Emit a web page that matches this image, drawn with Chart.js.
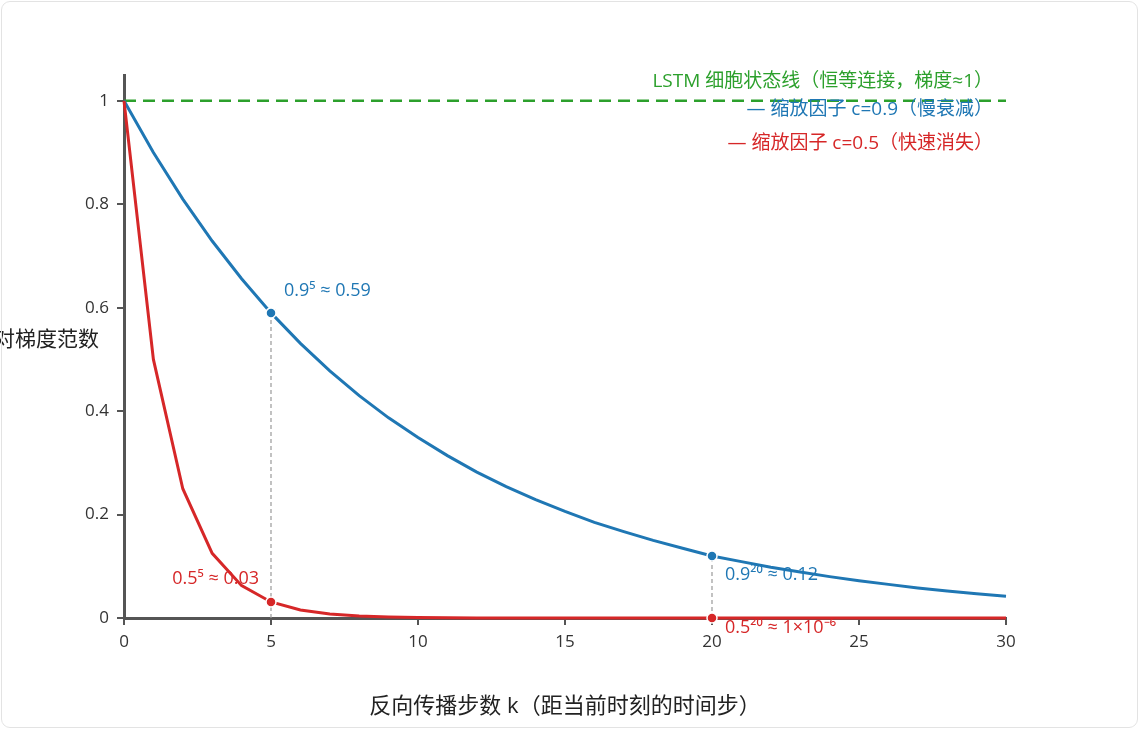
<!DOCTYPE html>
<html>
<head>
<meta charset="utf-8">
<script src="https://cdn.jsdelivr.net/npm/chart.js@4.4.1/dist/chart.umd.min.js"></script>
<style>
  html, body { margin: 0; padding: 0; background: #fff; }
  #wrap { position: relative; width: 1140px; height: 730px; }
  #chart { position: absolute; left: 0; top: 0; }
  #frame { position: absolute; left: 1px; top: 1px; width: 1137px; height: 727px;
           border: 1px solid #e3e3e3; border-radius: 9px; box-sizing: border-box; pointer-events: none; }
</style>
</head>
<body>
<div id="wrap">
  <canvas id="chart" width="1140" height="730"></canvas>
  <div id="frame"></div>
</div>
<script>
// backprop steps k
const steps = [0,1,2,3,4,5,6,7,8,9,10,11,12,13,14,15,16,17,18,19,20,21,22,23,24,25,26,27,28,29,30];
// gradient norm with c = 0.9
const slowDecay = [1, 0.9, 0.81, 0.729, 0.656, 0.59, 0.531, 0.478, 0.43, 0.387, 0.349, 0.314, 0.282, 0.254, 0.229,
  0.206, 0.185, 0.167, 0.15, 0.135, 0.12, 0.109, 0.098, 0.089, 0.08, 0.072, 0.065, 0.058, 0.052, 0.047, 0.042];
// gradient norm with c = 0.5
const fastDecay = [1, 0.5, 0.25, 0.125, 0.0625, 0.031, 0.0156, 0.0078, 0.0039, 0.002, 0.001, 0.0005, 0.0002, 0.0001, 0.0001,
  0, 0, 0, 0, 0, 0, 0, 0, 0, 0, 0, 0, 0, 0, 0, 0];
// LSTM cell state (identity)
const lstmLine = [1, 1];
const lstmSteps = [0, 30];

// highlighted points
const markSteps = [5, 20];
const markSlow = [0.59, 0.12];
const markFast = [0.031, 0.000001];
const markSlowText = ['0.9⁵ ≈ 0.59', '0.9²⁰ ≈ 0.12'];
const markFastText = ['0.5⁵ ≈ 0.03', '0.5²⁰ ≈ 1×10⁻⁶'];

const xTicks = [0, 5, 10, 15, 20, 25, 30];
const yTicks = [0, 0.2, 0.4, 0.6, 0.8, 1];

const legendLines = [
  { text: 'LSTM 细胞状态线（恒等连接，梯度≈1）', color: '#2ca02c' },
  { text: '— 缩放因子 c=0.9（慢衰减）', color: '#1f77b4' },
  { text: '— 缩放因子 c=0.5（快速消失）', color: '#d62728' }
];
const xTitle = '反向传播步数 k（距当前时刻的时间步）';
const yTitle = '相对梯度范数';

const BLUE = '#1f77b4', RED = '#d62728', GREEN = '#2ca02c', AXIS = '#555555';
const FONT = "'Open Sans', 'Noto Sans CJK SC', sans-serif";

const pts = (xs, ys) => xs.map((x, i) => ({ x: x, y: ys[i] }));

// vertical guide lines from each marker down to 0
const guides = markSteps.map((s, i) => ({
  data: [{ x: s, y: 0 }, { x: s, y: markSlow[i] }],
  borderColor: '#999999',
  borderWidth: 1.2,
  borderDash: [4, 3],
  pointRadius: 0,
  order: 5
}));

const textPlugin = {
  id: 'texts',
  afterDraw(chart) {
    const ctx = chart.ctx;
    const xs = chart.scales.x, ys = chart.scales.y;
    ctx.save();
    ctx.textBaseline = 'middle';

    // legend lines top right
    ctx.font = '19px ' + FONT;
    ctx.textAlign = 'right';
    const ly = [82, 110, 144];
    legendLines.forEach((l, i) => {
      ctx.fillStyle = l.color;
      ctx.fillText(l.text, 993, ly[i]);
    });

    // marker labels
    ctx.font = '18px ' + FONT;
    markSteps.forEach((s, i) => {
      const px = xs.getPixelForValue(s);
      ctx.fillStyle = BLUE;
      ctx.textAlign = 'left';
      const sy = ys.getPixelForValue(markSlow[i]);
      ctx.fillText(markSlowText[i], px + 13, i === 0 ? sy - 22 : sy + 19);
      ctx.fillStyle = RED;
      const fy = ys.getPixelForValue(markFast[i]);
      if (i === 0) {
        ctx.textAlign = 'right';
        ctx.fillText(markFastText[i], px - 12, fy - 23);
      } else {
        ctx.fillText(markFastText[i], px + 13, fy + 10);
      }
    });

    // horizontal y title, partly off the left edge
    ctx.font = '21px ' + FONT;
    ctx.fillStyle = '#222';
    ctx.textAlign = 'right';
    ctx.fillText(yTitle, 99, 340);
    ctx.restore();
  }
};

new Chart(document.getElementById('chart').getContext('2d'), {
  type: 'line',
  data: {
    datasets: [
      {
        data: pts(lstmSteps, lstmLine),
        borderColor: GREEN,
        borderWidth: 2.5,
        borderDash: [12, 7],
        pointRadius: 0,
        clip: false,
        order: 4
      },
      ...guides,
      {
        data: pts(steps, slowDecay),
        borderColor: BLUE,
        borderWidth: 3,
        pointRadius: 0,
        tension: 0,
        clip: false,
        order: 2
      },
      {
        data: pts(steps, fastDecay),
        borderColor: RED,
        borderWidth: 3,
        pointRadius: 0,
        tension: 0,
        clip: false,
        order: 1
      },
      {
        data: pts(markSteps, markSlow),
        showLine: false,
        pointRadius: 5,
        pointBackgroundColor: BLUE,
        pointBorderColor: '#ffffff',
        pointBorderWidth: 1.5,
        clip: false,
        order: 0
      },
      {
        data: pts(markSteps, markFast),
        showLine: false,
        pointRadius: 5,
        pointBackgroundColor: RED,
        pointBorderColor: '#ffffff',
        pointBorderWidth: 1.5,
        clip: false,
        order: 0
      }
    ]
  },
  options: {
    responsive: false,
    animation: false,
    layout: { padding: { left: 0, right: 134, top: 75, bottom: 0 } },
    plugins: {
      legend: { display: false },
      tooltip: { enabled: false }
    },
    scales: {
      x: {
        type: 'linear',
        min: 0,
        max: 30,
        afterFit: s => { s.height = 112; },
        afterBuildTicks: s => { s.ticks = xTicks.map(v => ({ value: v })); },
        border: { display: true, color: AXIS, width: 3 },
        grid: { drawOnChartArea: false, drawTicks: true, tickLength: 7, color: AXIS, lineWidth: 2 },
        ticks: { color: '#333', font: { size: 17, family: FONT }, padding: 7 },
        title: {
          display: true,
          text: xTitle,
          color: '#222',
          font: { size: 22, family: FONT },
          padding: { top: 0, bottom: 10 }
        }
      },
      y: {
        type: 'linear',
        min: 0,
        max: 1.05,
        afterFit: s => { s.width = 124; },
        afterBuildTicks: s => { s.ticks = yTicks.map(v => ({ value: v })); },
        border: { display: true, color: AXIS, width: 3 },
        grid: { drawOnChartArea: false, drawTicks: true, tickLength: 7, color: AXIS, lineWidth: 2 },
        ticks: { color: '#333', font: { size: 17, family: FONT }, padding: 8, callback: v => String(v) }
      }
    }
  },
  plugins: [textPlugin]
});
</script>
</body>
</html>
